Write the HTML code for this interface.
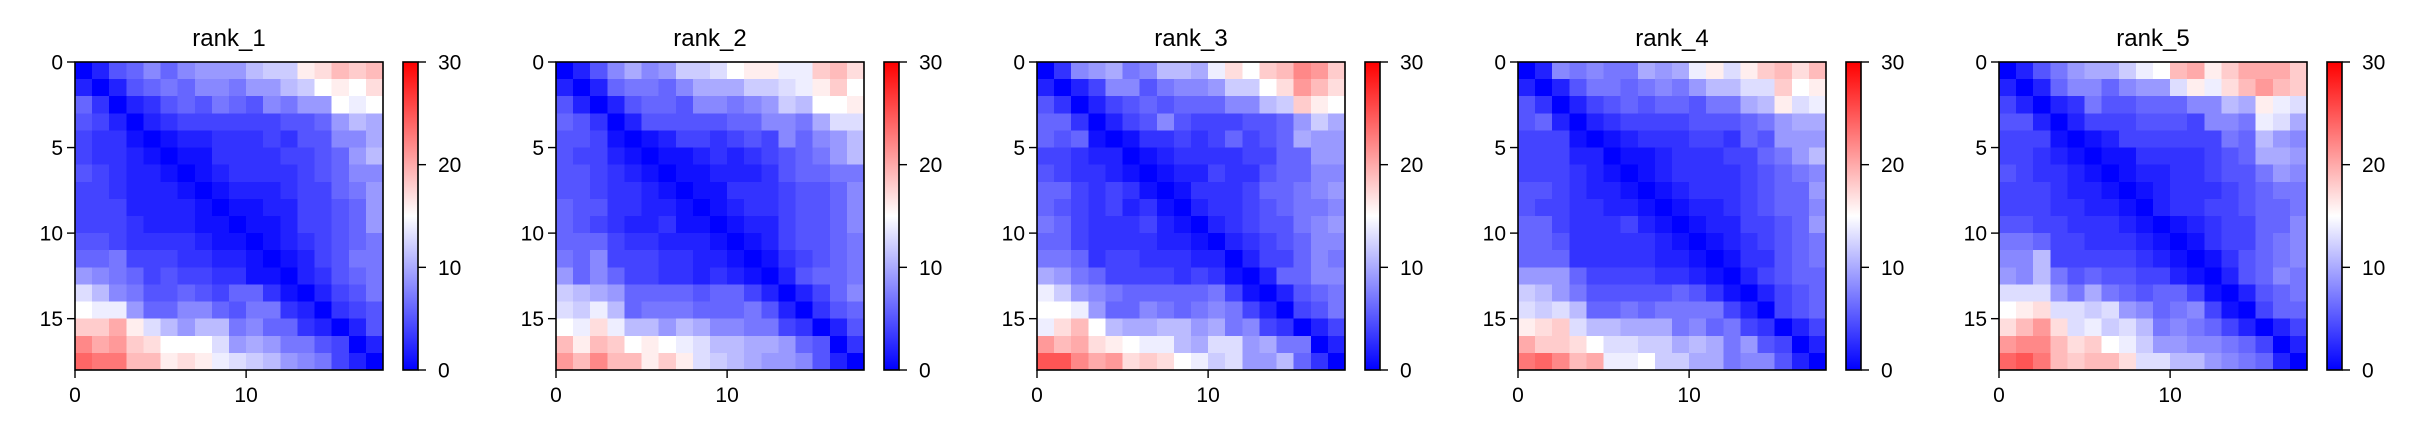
<!DOCTYPE html>
<html><head><meta charset="utf-8"><style>html,body{margin:0;padding:0;background:#fff}svg{display:block}text{font-family:"Liberation Sans","DejaVu Sans",sans-serif;fill:#000}</style></head>
<body>
<svg id="chart" width="2417" height="438" viewBox="0 0 2417 438" xmlns="http://www.w3.org/2000/svg">
<defs>
<linearGradient id="bwr" x1="0" y1="1" x2="0" y2="0">
<stop offset="0" stop-color="#0000ff"/><stop offset="0.5" stop-color="#ffffff"/><stop offset="1" stop-color="#ff0000"/>
</linearGradient>
</defs>
</svg>
<script>
const titles = ["rank_1","rank_2","rank_3","rank_4","rank_5"];
const axisTicks = [0,5,10,15];
const xTicks = [0,10];
const cbTicks = [0,10,20,30];
const vmin = 0, vmax = 30;
const rank1 = [
[0,2,5,6,8,6,8,9,9,9,11,12,12,16,17,19,18,19],
[2,0,2,5,6,7,6,8,8,7,9,9,11,12,15,16,15,17],
[6,3,0,2,3,5,6,5,7,6,5,8,7,9,9,15,14,15],
[5,4,2,0,2,3,4,4,4,4,4,4,5,5,6,9,11,10],
[4,3,3,1,0,1,2,2,3,3,3,4,3,5,5,8,8,10],
[4,3,3,2,1,0,1,1,3,3,3,3,4,4,5,6,9,11],
[5,4,3,2,2,1,0,1,2,3,3,3,3,4,5,6,8,8],
[4,4,3,2,2,2,1,0,1,2,2,2,3,4,4,6,7,9],
[4,4,4,2,2,2,2,1,0,1,1,2,2,4,4,5,6,9],
[4,4,4,3,2,2,2,1,1,0,1,1,2,4,4,5,6,9],
[5,5,4,3,3,3,3,2,1,1,0,1,2,3,4,5,6,7],
[6,6,7,4,4,4,3,3,2,2,1,0,1,2,4,5,7,7],
[9,8,7,6,4,5,4,4,3,3,1,1,0,2,3,5,6,7],
[13,11,8,7,5,5,6,5,4,6,6,3,1,0,2,4,5,7],
[15,14,14,9,6,6,8,8,6,5,7,7,3,2,0,3,4,5],
[18,18,20,16,13,11,9,11,11,7,8,6,6,3,2,0,2,5],
[22,20,21,18,17,15,15,15,13,9,10,9,7,7,5,4,0,2],
[24,23,23,19,19,16,17,16,14,13,12,11,9,8,7,4,2,0]];
const rank2 = [
[0,2,5,8,10,8,9,12,12,13,15,16,16,14,14,18,19,17],
[2,0,2,6,7,7,6,8,10,10,10,12,12,13,14,16,18,15],
[5,2,0,2,5,6,6,5,8,8,7,8,9,12,11,15,15,16],
[6,5,3,0,2,5,5,5,5,5,6,6,8,8,7,10,13,13],
[5,5,4,1,0,1,2,4,4,3,4,5,4,8,6,8,9,11],
[5,4,4,2,1,0,1,1,2,3,2,3,4,5,6,7,9,11],
[5,5,4,3,2,1,0,1,1,2,2,2,3,5,6,6,7,7],
[5,5,4,3,3,2,1,0,1,1,3,3,3,4,5,5,6,8],
[6,5,5,3,3,2,2,1,0,1,2,3,3,4,5,5,6,8],
[6,5,4,3,2,2,3,1,1,0,1,2,2,4,5,5,6,8],
[6,6,6,4,3,3,2,2,2,1,0,1,2,4,5,5,6,7],
[7,6,8,4,4,4,3,3,2,2,1,0,1,3,4,5,6,7],
[9,6,8,6,4,4,3,3,2,3,2,1,0,2,5,6,6,7],
[12,11,10,9,6,6,6,6,5,6,6,4,2,0,2,4,6,8],
[13,12,14,11,6,7,7,7,6,6,6,7,5,2,0,3,5,6],
[15,14,17,14,11,11,9,11,10,8,8,7,7,4,3,0,2,5],
[19,16,19,18,15,16,15,14,13,11,11,10,10,9,6,5,0,3],
[21,19,22,19,19,16,18,16,13,12,11,10,9,9,8,5,2,0]];
const rank3 = [
[0,3,8,9,10,7,8,11,11,10,14,17,15,18,19,22,21,18],
[2,0,2,4,8,8,5,7,8,8,9,12,12,15,17,21,19,17],
[5,3,0,2,4,5,6,5,6,6,6,8,8,11,12,18,16,15],
[6,6,3,0,2,4,5,8,5,4,4,4,5,5,6,9,12,10],
[6,5,6,1,0,1,3,3,4,3,4,6,4,5,6,10,9,9],
[4,4,3,2,2,0,1,2,3,3,3,3,4,4,6,6,9,9],
[5,4,3,3,2,1,0,1,2,2,4,3,3,5,6,6,8,8],
[6,6,4,3,4,3,1,0,1,3,3,3,4,6,6,7,8,9],
[6,5,4,3,4,2,3,1,0,2,3,3,4,5,6,7,7,8],
[7,6,4,3,3,3,4,2,1,0,2,3,4,5,5,7,8,9],
[6,6,4,3,3,3,3,2,2,1,0,2,3,4,5,6,8,8],
[7,7,6,3,4,4,3,3,3,2,2,0,2,4,4,6,8,7],
[10,9,7,6,4,4,4,4,3,4,3,1,0,2,6,6,8,8],
[14,12,9,8,7,6,6,6,6,6,7,4,1,0,2,5,6,7],
[15,15,14,9,6,6,8,7,6,7,8,7,4,2,0,4,5,7],
[14,17,19,15,11,10,10,11,11,9,10,7,8,4,3,0,2,4],
[21,19,20,17,16,15,14,14,11,10,13,13,9,10,7,7,0,2],
[25,25,22,20,21,17,18,17,15,14,12,13,9,9,11,6,3,0]];
const rank4 = [
[0,2,8,7,8,7,7,10,9,10,14,16,13,16,18,19,17,19],
[2,0,2,5,7,7,6,7,8,7,9,11,11,13,13,18,15,16],
[5,3,0,2,4,5,6,5,6,6,5,7,7,10,11,16,13,14],
[5,6,2,0,2,3,4,4,4,4,5,5,5,6,7,9,10,10],
[4,4,4,1,0,1,2,3,3,3,4,4,3,6,5,9,9,9],
[4,4,4,2,2,0,1,1,2,3,3,3,4,4,6,7,9,11],
[4,4,4,3,2,1,0,1,2,3,3,3,3,4,5,6,7,8],
[5,5,4,3,2,2,1,0,1,2,3,3,3,4,5,6,6,9],
[5,4,4,3,3,2,2,1,0,1,2,2,3,4,5,6,6,8],
[6,6,4,3,3,3,4,2,1,0,1,2,2,4,4,5,6,9],
[6,6,5,3,3,3,3,3,2,1,0,1,2,3,4,5,6,7],
[6,6,6,3,3,3,3,3,2,2,1,0,1,3,3,5,6,7],
[9,9,9,6,4,4,4,4,3,3,2,1,0,2,4,5,6,6],
[12,11,9,7,5,5,5,5,5,6,5,3,1,0,2,4,5,6],
[13,12,13,11,6,6,7,6,7,7,7,7,4,2,0,4,5,6],
[16,17,18,13,11,11,10,10,10,7,8,6,7,4,3,0,2,4],
[20,18,18,17,15,13,13,12,12,10,11,10,7,9,5,4,0,2],
[23,24,22,19,20,14,14,15,12,12,10,10,7,8,8,5,2,0]];
const rank5 = [
[0,2,5,7,9,10,10,12,14,15,19,20,16,18,20,20,20,18],
[2,0,2,6,8,8,6,8,9,9,13,16,14,17,19,21,19,18],
[4,2,0,2,3,7,5,5,6,6,6,8,8,11,10,16,14,13],
[5,5,2,0,2,4,4,4,5,5,5,4,8,8,7,14,13,10],
[4,4,4,1,0,1,2,4,4,4,4,4,4,7,6,11,9,8],
[4,4,3,2,1,0,1,1,3,3,3,3,4,5,6,10,10,9],
[5,4,3,3,2,1,0,1,2,2,3,3,4,5,5,7,9,8],
[4,4,4,3,2,2,1,0,1,2,3,3,3,4,5,6,7,7],
[4,4,4,3,3,2,2,1,0,2,3,3,4,4,5,6,6,7],
[5,5,4,4,3,3,3,2,1,0,1,2,3,4,4,6,6,8],
[7,7,6,4,4,3,3,3,2,1,0,1,3,4,4,6,7,8],
[8,8,11,4,4,4,4,4,3,2,1,0,1,3,5,6,7,8],
[9,8,11,7,5,6,5,5,4,4,2,1,0,2,5,6,8,7],
[13,13,13,9,7,10,7,6,5,6,6,4,1,0,2,5,6,7],
[15,16,17,13,13,12,13,9,8,6,7,8,4,1,0,4,6,6],
[17,19,21,17,13,14,12,13,11,7,8,7,6,4,2,0,2,4],
[21,22,22,19,17,18,15,14,12,9,9,8,8,7,6,4,0,2],
[24,25,23,19,18,19,19,17,13,13,11,11,9,8,7,6,2,0]];
const matrices = [rank1, rank2, rank3, rank4, rank5];

const NS = "http://www.w3.org/2000/svg";
const svg = document.getElementById("chart");
function mk(tag, attrs, parent){const e=document.createElementNS(NS,tag);for(const k in attrs)e.setAttribute(k,attrs[k]);(parent||svg).appendChild(e);return e;}
function bwr(v){let t=(v-vmin)/(vmax-vmin);t=Math.max(0,Math.min(1,t));let r,g,b;
 if(t<0.5){const s=t/0.5;r=g=Math.round(255*s);b=255;}else{const s=(t-0.5)/0.5;r=255;g=b=Math.round(255*(1-s));}
 return `rgb(${r},${g},${b})`;}
const TOP=62, SIZE=308, PITCH=481, LEFT0=75, CBOFF=328, CBW=15;
matrices.forEach((m,k)=>{
 const left=LEFT0+PITCH*k;
 const n=m.length, cell=SIZE/n;
 const xs=i=>left+i*SIZE/n, ys=i=>TOP+i*SIZE/n;
 const g=mk("g",{});
 
 
 const t=mk("text",{x:left+SIZE/2,y:46,"font-size":24,"text-anchor":"middle"},g);
 t.textContent=titles[k];
 
 
 const hg=mk("g",{"shape-rendering":"crispEdges"},g);
 
 
 m.forEach((row,i)=>row.forEach((v,j)=>{
  const r=mk("rect",{x:xs(j),y:ys(i),width:cell+0.6,height:cell+0.6,fill:bwr(v)},hg);
  
  
 }));
 const fr=mk("rect",{x:left,y:TOP,width:SIZE,height:SIZE,fill:"none",stroke:"#000","stroke-width":1.6},g);
 
 
 axisTicks.forEach(v=>{
  const y=ys(v);
  mk("line",{x1:left-8,x2:left,y1:y,y2:y,stroke:"#000","stroke-width":1.4},g);
  const tl=mk("text",{x:left-12,y:y+7.5,"font-size":21,"text-anchor":"end"},g);
  tl.textContent=v;
  
  
 });
 xTicks.forEach(v=>{
  const x=xs(v);
  mk("line",{x1:x,x2:x,y1:TOP+SIZE,y2:TOP+SIZE+8,stroke:"#000","stroke-width":1.4},g);
  const tl=mk("text",{x:x,y:TOP+SIZE+32,"font-size":21,"text-anchor":"middle"},g);
  tl.textContent=v;
  
  
 });
 const cbx=left+CBOFF;
 const cb=mk("rect",{x:cbx,y:TOP,width:CBW,height:SIZE,fill:"url(#bwr)",stroke:"#000","stroke-width":1.6},g);
 
 
 cbTicks.forEach(v=>{
  const y=TOP+SIZE-(v-vmin)/(vmax-vmin)*SIZE;
  mk("line",{x1:cbx+CBW,x2:cbx+CBW+8,y1:y,y2:y,stroke:"#000","stroke-width":1.4},g);
  const tl=mk("text",{x:cbx+CBW+20,y:y+7.5,"font-size":21},g);
  tl.textContent=v;
  
  
 });
});
</script>
</body></html>
